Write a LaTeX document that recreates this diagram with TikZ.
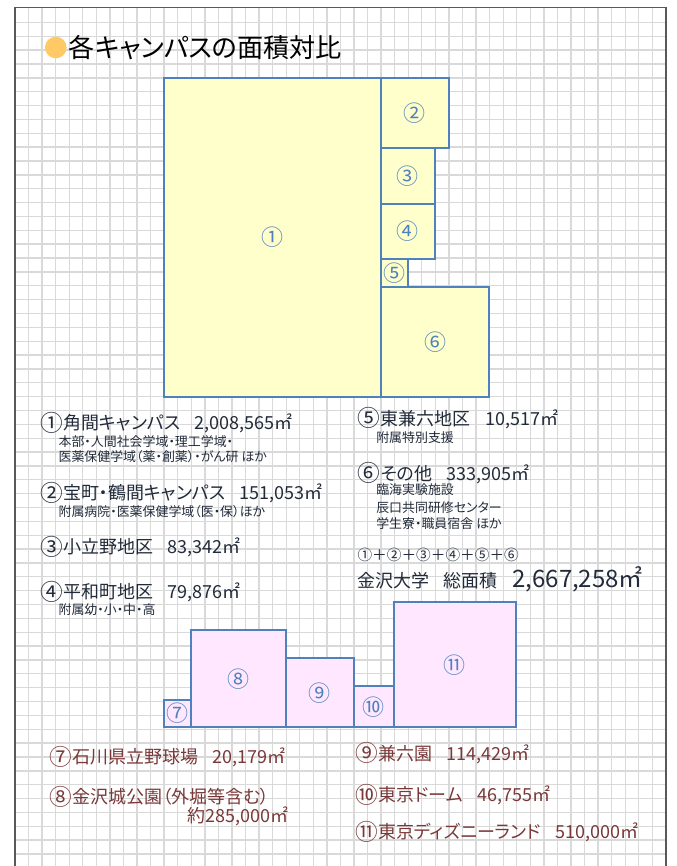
\documentclass[tikz,border=0pt]{standalone}
\usepackage{fontspec}
\setmainfont{Noto Sans CJK JP}[CharacterWidth=AlternateProportional]
\definecolor{gridgray}{HTML}{D9D9D9}
\definecolor{framegray}{HTML}{595959}
\definecolor{boxblue}{HTML}{4F81BD}
\definecolor{campusfill}{HTML}{FFFFCC}
\definecolor{otherfill}{HTML}{FFE8FF}
\definecolor{inkdark}{HTML}{222B3A}
\definecolor{inkbrown}{HTML}{7A3838}
\definecolor{bullet}{HTML}{FFC966}
\newcommand\circnum[1]{\raisebox{-1.3pt}{\fontsize{17}{17}\selectfont#1}\kern0.4pt}
\newcommand\gap{\hspace{0.8em}}
\tikzset{
  gridline/.style={gridgray,line width=1pt},
  area/.style={draw=boxblue,line width=1.5pt},
  boxnum/.style={text=boxblue,font=\fontsize{16.5}{18}\selectfont,inner sep=0},
  entry/.style={anchor=west,inner sep=0,text=inkdark,font=\fontsize{13.5}{16}\selectfont},
  note/.style={anchor=west,inner sep=0,text=inkdark,font=\fontsize{9.7}{12}\selectfont},
  other/.style={anchor=west,inner sep=0,text=inkbrown,font=\fontsize{13.5}{16}\selectfont}
}

\begin{document}
\begin{tikzpicture}[x=0.75pt,y=-0.75pt]
\useasboundingbox (0,0) rectangle (677,866);

\foreach \i in {1,...,47}
  \draw[gridline] ({15+13.56*\i},7.5) -- ({15+13.56*\i},866);
\foreach \j in {0,...,60}
  \draw[gridline] (15,{22.4+13.86*\j}) -- (666,{22.4+13.86*\j});
\draw[framegray,line width=1.1pt] (15,866) -- (15,7.5) -- (666,7.5);
\draw[framegray,line width=1.8pt] (666,7.5) -- (666,866);

\fill[bullet] (55.8,47.5) circle (10.8);
\node[anchor=west,inner sep=0,font=\fontsize{19.6}{22}\selectfont] (title) at (68.5,47.5) {各キャンパスの面積対比};

\foreach \k/\ax/\ay/\bx/\by/\lab in {
  1/163.7/77.7/381/397.3/①,
  2/381/77.7/448.7/148/②,
  3/381/148/434.7/204/③,
  4/381/204/434.7/259/④,
  5/381/259/407.7/287/⑤,
  6/381/287/489/397.3/⑥}
  \draw[area,fill=campusfill] (\ax,\ay) rectangle node[boxnum] (b\k) {\lab} (\bx,\by);

\foreach \k/\ax/\ay/\bx/\by/\lab in {
  7/163.7/699.7/190.7/727.3/⑦,
  8/190.7/630/285.7/727.3/⑧,
  9/285.7/658/354/727.3/⑨,
  10/354/686/393.7/727.3/⑩,
  11/393.7/602/516/727.3/⑪}
  \draw[area,fill=otherfill] (\ax,\ay) rectangle node[boxnum] (b\k) {\lab} (\bx,\by);

\node[entry] (t1) at (40,422.7) {\circnum{①}角間キャンパス\gap 2,008,565㎡};
\node[note] (t1a) at (58.3,441.7) {本部・人間社会学域・理工学域・};
\node[note] (t1b) at (58.3,456.7) {医薬保健学域（薬・創薬）・がん研 ほか};
\node[entry] (t2) at (40,492.7) {\circnum{②}宝町・鶴間キャンパス\gap 151,053㎡};
\node[note] (t2a) at (58.3,511.7) {附属病院・医薬保健学域（医・保）ほか};
\node[entry] (t3) at (40,546.7) {\circnum{③}小立野地区\gap 83,342㎡};
\node[entry] (t4) at (40,591.7) {\circnum{④}平和町地区\gap 79,876㎡};
\node[note] (t4a) at (58.3,609.3) {附属幼・小・中・高};

\node[entry] (t5) at (357.3,418.3) {\circnum{⑤}東兼六地区\gap 10,517㎡};
\node[note] (t5a) at (376,437.3) {附属特別支援};
\node[entry] (t6) at (357.3,473.3) {\circnum{⑥}その他\gap 333,905㎡};
\node[note] (t6a) at (376,490) {臨海実験施設};
\node[note] (t6b) at (376,507.3) {辰口共同研修センター};
\node[note] (t6c) at (376,524) {学生寮・職員宿舎 ほか};
\node[note,font=\fontsize{11}{12}\selectfont] (sum) at (357.3,555) {①＋②＋③＋④＋⑤＋⑥};
\node[entry] (total) at (357.3,579) {金沢大学\gap 総面積\gap {\fontsize{18}{22}\selectfont 2,667,258㎡}};

\node[other] (t7) at (49,756.7) {\circnum{⑦}石川県立野球場\gap 20,179㎡};
\node[other] (t8) at (49,796.7) {\circnum{⑧}金沢城公園（外堀等含む）};
\node[other,anchor=east] (t8a) at (288.3,816.7) {約285,000㎡};
\node[other] (t9) at (355,753.3) {\circnum{⑨}兼六園\gap 114,429㎡};
\node[other] (t10) at (355,795) {\circnum{⑩}東京ドーム\gap 46,755㎡};
\node[other] (t11) at (355,831.7) {\circnum{⑪}東京ディズニーランド\gap 510,000㎡};
\end{tikzpicture}
\end{document}
